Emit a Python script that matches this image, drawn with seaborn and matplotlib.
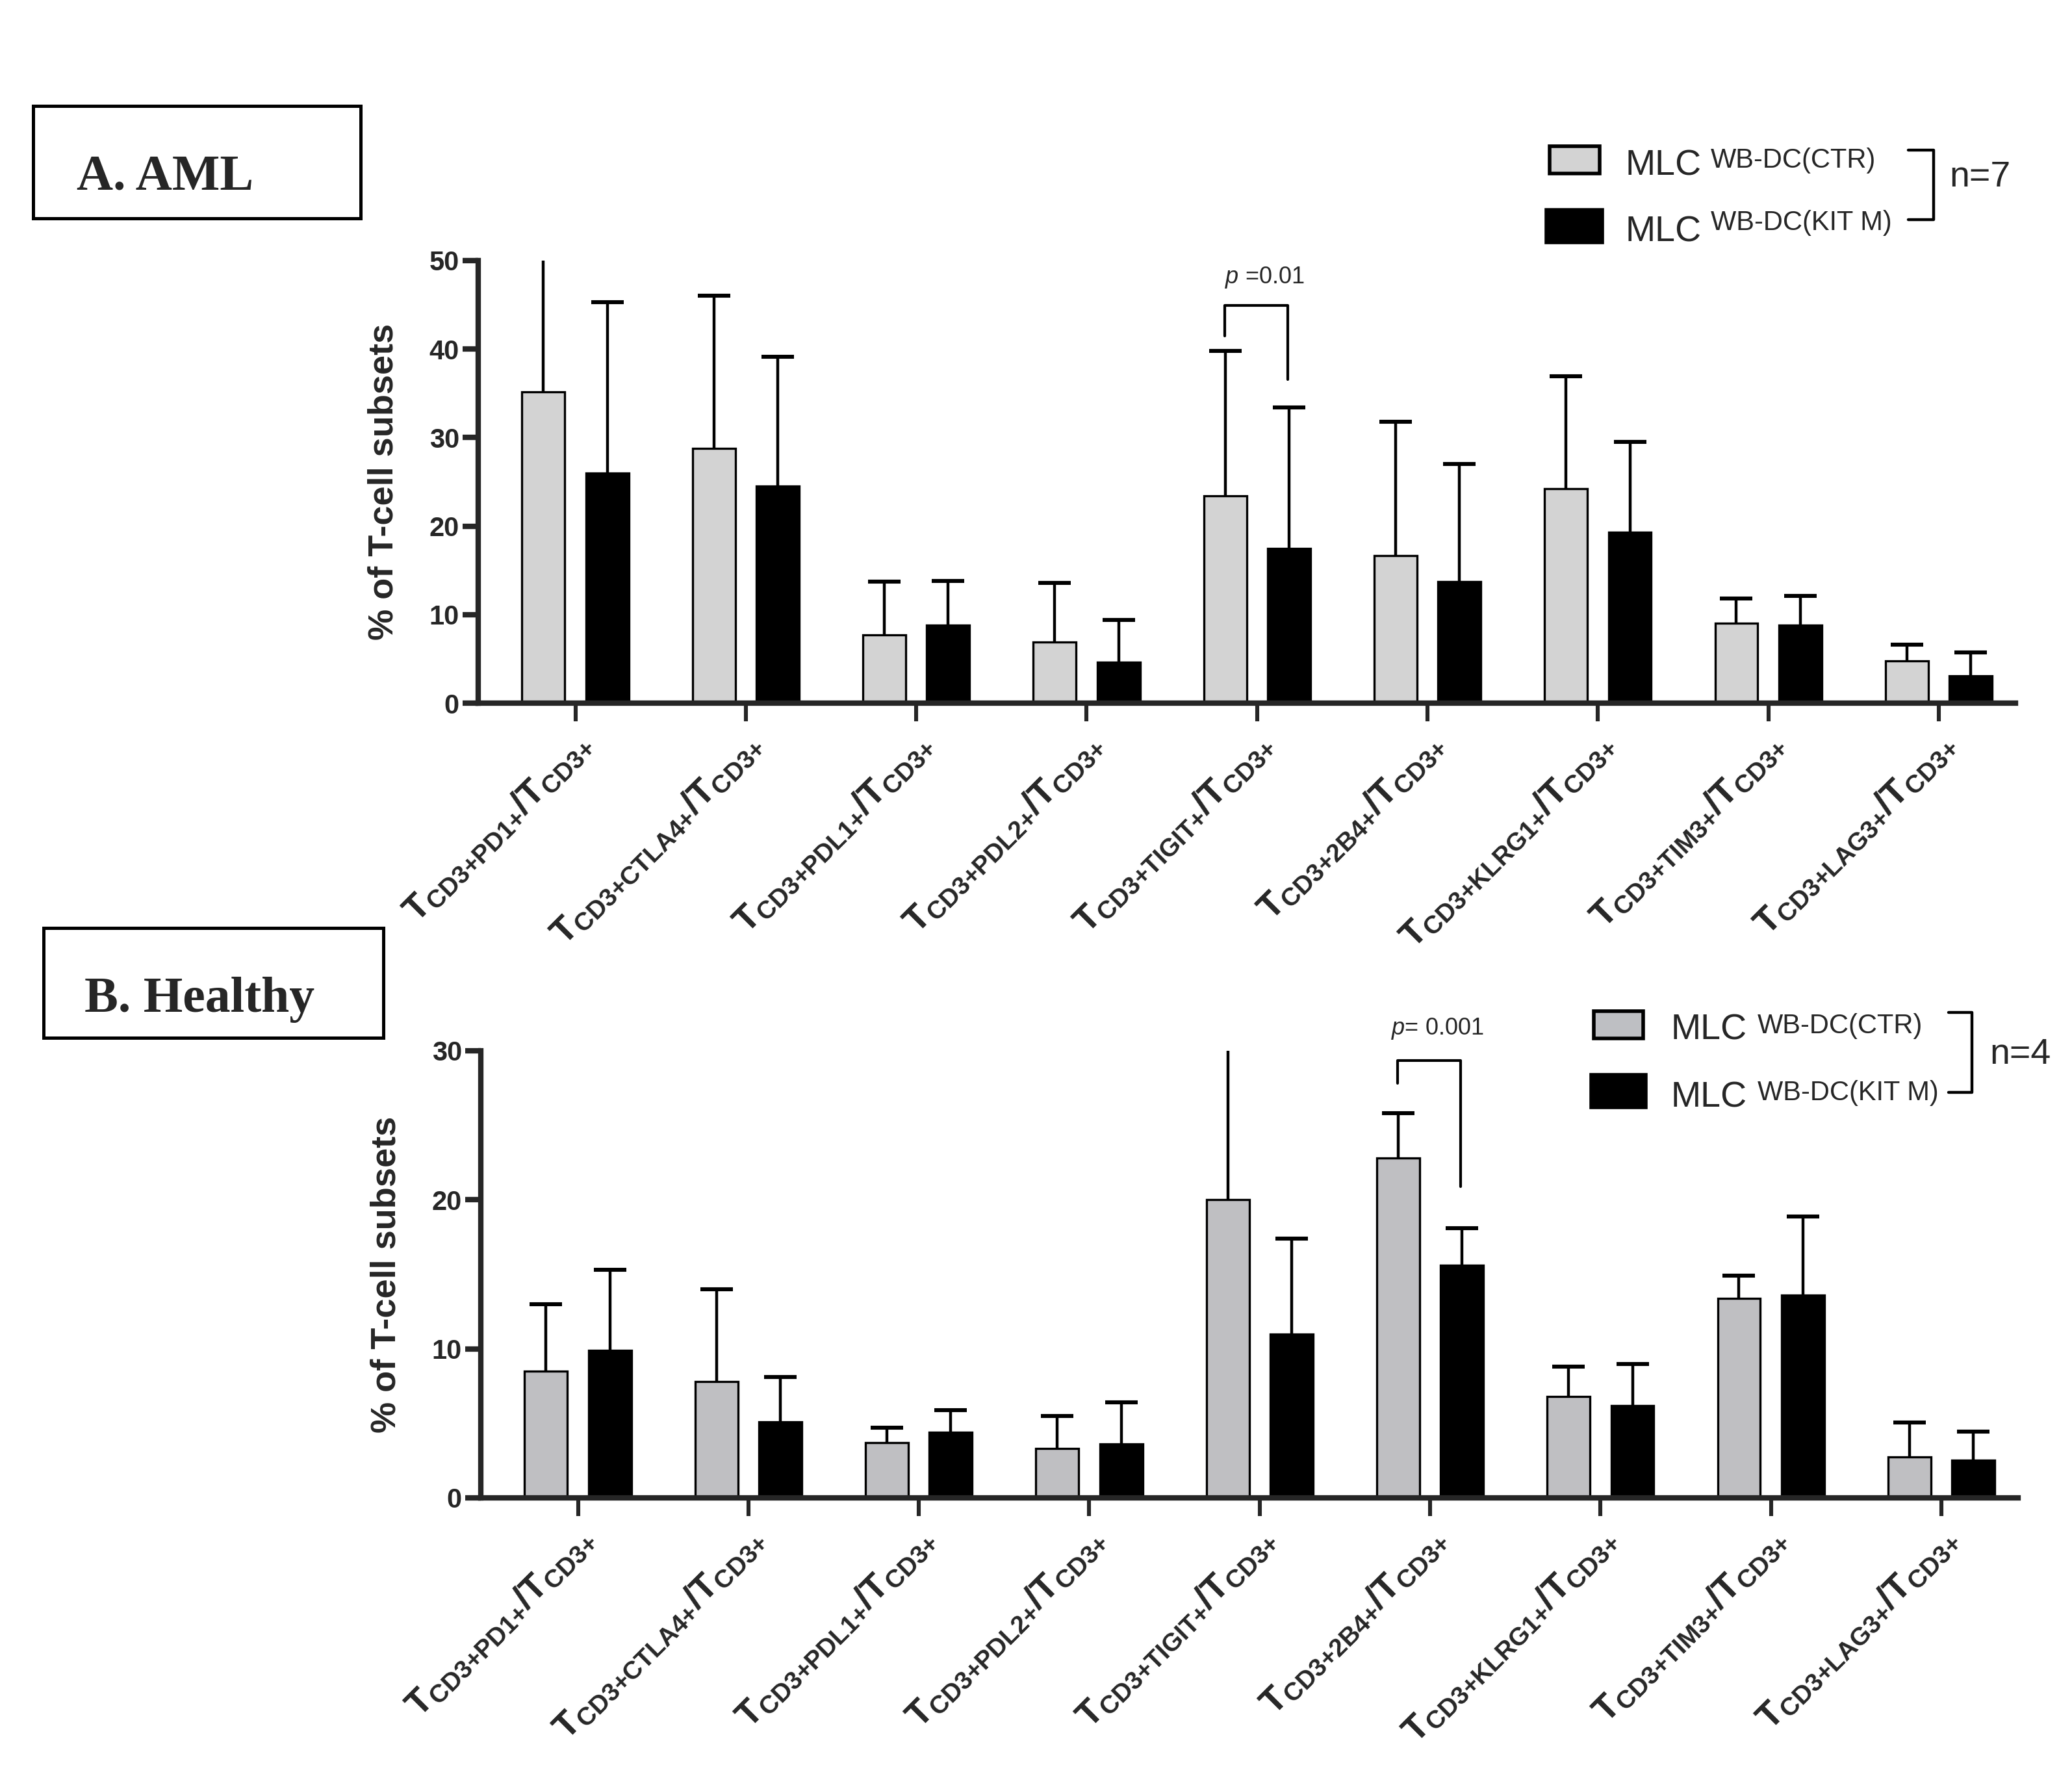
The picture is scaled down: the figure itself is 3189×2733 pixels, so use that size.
import numpy as np
import pandas as pd
import seaborn as sns
import matplotlib.pyplot as plt
from matplotlib.patches import Rectangle
from matplotlib.lines import Line2D

# ---- data ----
markers = ['PD1', 'CTLA4', 'PDL1', 'PDL2', 'TIGIT', '2B4', 'KLRG1', 'TIM3', 'LAG3']
groups = ['MLC WB-DC(CTR)', 'MLC WB-DC(KIT M)']

aml_ctr_mean = [35.2, 28.8, 7.7, 6.9, 23.4, 16.7, 24.2, 9.0, 4.8]
aml_ctr_sd = [17.0, 17.2, 6.0, 6.7, 16.4, 15.1, 12.7, 2.8, 1.8]
aml_kit_mean = [26.0, 24.5, 8.8, 4.6, 17.5, 13.7, 19.3, 8.8, 3.1]
aml_kit_sd = [19.3, 14.6, 5.0, 4.8, 15.9, 13.3, 10.2, 3.3, 2.6]

hea_ctr_mean = [8.5, 7.8, 3.7, 3.3, 20.0, 22.8, 6.8, 13.4, 2.75]
hea_ctr_sd = [4.5, 6.2, 1.0, 2.2, 11.0, 3.0, 2.0, 1.5, 2.3]
hea_kit_mean = [9.9, 5.1, 4.4, 3.6, 11.0, 15.6, 6.2, 13.6, 2.55]
hea_kit_sd = [5.4, 3.0, 1.5, 2.8, 6.4, 2.5, 2.8, 5.3, 1.9]

tick_labels = [r'$\mathbf{T_{CD3{+}%s{+}}/T_{CD3{+}}}$' % m for m in markers]

W, H, DPI = 3189, 2733, 200
fig = plt.figure(figsize=(W / DPI, H / DPI), dpi=DPI)
sns.set_style('ticks')
plt.rcParams['font.family'] = ['Liberation Sans', 'DejaVu Sans']
plt.rcParams['mathtext.fontset'] = 'custom'
plt.rcParams['mathtext.rm'] = 'Liberation Sans'
plt.rcParams['mathtext.bf'] = 'Liberation Sans:bold'
plt.rcParams['mathtext.it'] = 'Liberation Sans:italic'


def fx(px):
    return px / W


def fy(py):
    return 1 - py / H


def make_df(ctr, kit):
    return pd.DataFrame({
        'marker': markers * 2,
        'value': list(ctr) + list(kit),
        'group': [groups[0]] * len(markers) + [groups[1]] * len(markers),
    })


def panel(rect, ctr, kit, ctr_sd, kit_sd, ctr_color, ymax):
    ax = fig.add_axes(rect)
    df = make_df(ctr, kit)
    sns.barplot(data=df, x='marker', y='value', hue='group', order=markers,
                palette=[ctr_color, 'black'], edgecolor='black', linewidth=1.2,
                width=0.75, gap=0.33, errorbar=None, legend=False, ax=ax)
    for cont, sd in zip(ax.containers, [ctr_sd, kit_sd]):
        xs = [b.get_x() + b.get_width() / 2 for b in cont]
        ys = [b.get_height() for b in cont]
        eb = ax.errorbar(xs, ys, yerr=[np.zeros(len(sd)), sd], fmt='none',
                         ecolor='black', elinewidth=1.6, capsize=9,
                         capthick=2.2, zorder=1)
        # only the upper cap is shown
        eb[1][0].set_visible(False)
    ax.set_ylim(0, ymax)
    ax.set_xlim(-0.57, 8.45)
    ax.set_yticks(np.arange(0, ymax + 1, 10))
    sns.despine(ax=ax)
    for s in ['left', 'bottom']:
        ax.spines[s].set_linewidth(3.0)
    ax.tick_params(axis='y', length=8.5, width=3.0, labelsize=15, pad=2)
    ax.tick_params(axis='x', length=10, width=2.2, pad=4)
    for t in ax.get_yticklabels():
        t.set_fontweight('bold')
    ax.set_xticks(range(len(markers)))
    ax.set_xticklabels(tick_labels, rotation=45, ha='right',
                       rotation_mode='anchor', fontsize=20)
    ax.set_xlabel('')
    ax.set_ylabel('% of T-cell subsets', fontsize=19.5, fontweight='bold')
    ax.yaxis.set_label_coords(-0.051, 0.5)
    return ax


ax1 = panel([fx(736), fy(1082), fx(3102 - 736), (1082 - 401) / H],
            aml_ctr_mean, aml_kit_mean, aml_ctr_sd, aml_kit_sd, '#d3d3d3', 50)
ax2 = panel([fx(740), fy(2305), fx(3106 - 740), (2305 - 1617) / H],
            hea_ctr_mean, hea_kit_mean, hea_ctr_sd, hea_kit_sd, '#bebfc3', 30)

# significance brackets
def bracket(ax, i, y_top, y_left, y_right, text, ty):
    xl, xr = i - 0.19, i + 0.18
    ax.add_line(Line2D([xl, xl, xr, xr], [y_left, y_top, y_top, y_right],
                       color='black', lw=1.5, clip_on=False))
    ax.text((xl + xr) / 2 + 0.05, ty, text, ha='center', va='baseline',
            fontsize=13, clip_on=False)

bracket(ax1, 4, 44.9, 41.5, 36.6, r'$\mathit{p}$ =0.01', 47.4)
bracket(ax2, 5, 29.35, 27.8, 20.9, r'$\mathit{p}$= 0.001', 31.1)

# panel title boxes
def title_box(x0, y0, x1, y1, text, tx, ty):
    fig.add_artist(Rectangle((fx(x0), fy(y1)), fx(x1 - x0), (y1 - y0) / H,
                             transform=fig.transFigure, fill=False,
                             edgecolor='black', lw=1.8))
    fig.text(fx(tx), fy(ty), text, fontsize=28, fontweight='bold',
             family='Liberation Serif', va='baseline', ha='left')

title_box(51, 163, 555, 336, 'A. AML', 118, 291)
title_box(67, 1428, 590, 1597, 'B. Healthy', 130, 1557)

# legends drawn as figure artists
def legend_block(boxes, mlc_x, mlc_base, sup_x, sup_base, sups, colors,
                 br_x0, br_x1, br_y0, br_y1, n_text, n_x, n_base):
    for (bx0, by0, bx1, by1), c in zip(boxes, colors):
        fig.add_artist(Rectangle((fx(bx0), fy(by1)), fx(bx1 - bx0), (by1 - by0) / H,
                                 transform=fig.transFigure, facecolor=c,
                                 edgecolor='black', lw=2.0))
    for mb, sb, s in zip(mlc_base, sup_base, sups):
        fig.text(fx(mlc_x), fy(mb), 'MLC', fontsize=20, va='baseline')
        fig.text(fx(sup_x), fy(sb), s, fontsize=15, va='baseline')
    fig.add_artist(Line2D([fx(br_x0), fx(br_x1), fx(br_x1), fx(br_x0)],
                          [fy(br_y0), fy(br_y0), fy(br_y1), fy(br_y1)],
                          transform=fig.transFigure, color='black', lw=1.6))
    fig.text(fx(n_x), fy(n_base), n_text, fontsize=20, va='baseline')

legend_block([(2385, 225, 2462, 267), (2380, 323, 2466, 373)],
             2502, [269, 372], 2633, [258, 354],
             ['WB-DC(CTR)', 'WB-DC(KIT M)'], ['#d3d3d3', 'black'],
             2937, 2976, 231, 338, 'n=7', 3000, 287)
legend_block([(2453, 1556, 2529, 1598), (2449, 1654, 2533, 1704)],
             2572, [1600, 1703], 2705, [1590, 1693],
             ['WB-DC(CTR)', 'WB-DC(KIT M)'], ['#bebfc3', 'black'],
             2999, 3035, 1558, 1681, 'n=4', 3062, 1637)

fig.savefig('out.png', dpi=DPI, facecolor='white')
